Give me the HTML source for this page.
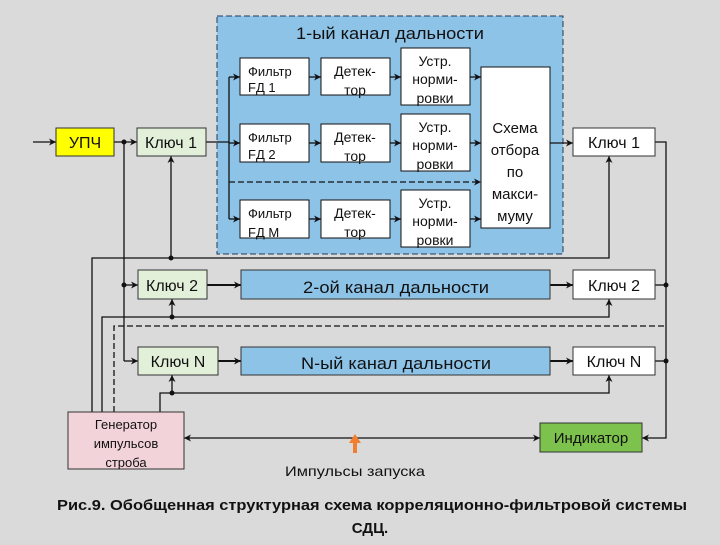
<!DOCTYPE html>
<html><head><meta charset="utf-8"><style>
body{margin:0;width:720px;height:540px;background:#d9d9d9;overflow:hidden}
svg text{font-family:"Liberation Sans","DejaVu Sans",sans-serif;fill:#111}
</style></head><body>
<svg width="720" height="540" viewBox="0 0 720 540" xmlns="http://www.w3.org/2000/svg">
<defs>
<marker id="a" markerWidth="8" markerHeight="8" refX="7" refY="4" orient="auto" markerUnits="userSpaceOnUse"><path d="M0,0.5 L7,4 L0,7.5 L2,4z" fill="#111"/></marker>
</defs>
<rect x="0" y="0" width="720" height="540" fill="#dadada"/>
<rect x="217" y="16" width="346" height="238" fill="#8ec3e8" stroke="#1f3a5a" stroke-dasharray="6,3"/>
<text x="296" y="39" font-size="17" textLength="188" lengthAdjust="spacingAndGlyphs">1-ый канал дальности</text>
<g stroke="#111" fill="#fff">
<rect x="240" y="58" width="69" height="37"/><rect x="240" y="124" width="69" height="38"/><rect x="240" y="200" width="69" height="38"/>
<rect x="321" y="58" width="69" height="37"/><rect x="321" y="124" width="69" height="38"/><rect x="321" y="200" width="69" height="38"/>
<rect x="401" y="48" width="69" height="57"/><rect x="401" y="114" width="69" height="57"/><rect x="401" y="190" width="69" height="57"/>
<rect x="481" y="67" width="69" height="161"/>
</g>
<g font-size="13">
<text x="248" y="76">Фильтр</text><text x="248" y="92">FД 1</text>
<text x="248" y="142">Фильтр</text><text x="248" y="159">FД 2</text>
<text x="248" y="218">Фильтр</text><text x="248" y="237">FД М</text>
</g>
<g font-size="14" text-anchor="middle">
<text x="355" y="76">Детек-</text><text x="355" y="95">тор</text>
<text x="355" y="142">Детек-</text><text x="355" y="161">тор</text>
<text x="355" y="218">Детек-</text><text x="355" y="237">тор</text>
<text x="435" y="66">Устр.</text><text x="435" y="84">норми-</text><text x="435" y="103">ровки</text>
<text x="435" y="132">Устр.</text><text x="435" y="150">норми-</text><text x="435" y="169">ровки</text>
<text x="435" y="208">Устр.</text><text x="435" y="226">норми-</text><text x="435" y="245">ровки</text>
<text x="515" y="133" font-size="15">Схема</text><text x="515" y="155" font-size="15">отбора</text><text x="515" y="177" font-size="15">по</text><text x="515" y="199" font-size="15">макси-</text><text x="515" y="221" font-size="15">муму</text>
</g>
<g stroke="#111" stroke-width="1.3" fill="none">
<path d="M229,77 V219"/>
<path d="M229,77 H240" marker-end="url(#a)"/><path d="M229,143 H240" marker-end="url(#a)"/><path d="M229,219 H240" marker-end="url(#a)"/>
<path d="M309,77 H321" marker-end="url(#a)"/><path d="M309,143 H321" marker-end="url(#a)"/><path d="M309,219 H321" marker-end="url(#a)"/>
<path d="M390,77 H401" marker-end="url(#a)"/><path d="M390,143 H401" marker-end="url(#a)"/><path d="M390,219 H401" marker-end="url(#a)"/>
<path d="M470,77 H481" marker-end="url(#a)"/><path d="M470,143 H481" marker-end="url(#a)"/><path d="M470,219 H481" marker-end="url(#a)"/>
<path d="M229,182 H481" stroke-dasharray="6,3" marker-end="url(#a)"/>
<path d="M550,143 H573" marker-end="url(#a)"/>
<path d="M33,142 H56" marker-end="url(#a)"/>
<path d="M114,142 H137" marker-end="url(#a)"/>
<path d="M206,142 H229"/>
<path d="M124,142 V361"/>
<path d="M124,285 H138" marker-end="url(#a)"/><path d="M124,361 H138" marker-end="url(#a)"/>
<path d="M92,412 V258 H609 V156" marker-end="url(#a)"/>
<path d="M171,258 V156" marker-end="url(#a)"/>
<path d="M102,412 V317 H609 V299" marker-end="url(#a)"/>
<path d="M172,317 V299" marker-end="url(#a)"/>
<path d="M114,412 V326 H666" stroke-dasharray="6,3"/>
<path d="M160,412 V393 H609 V375" marker-end="url(#a)"/>
<path d="M172,393 V375" marker-end="url(#a)"/>
<path d="M207,285 H241" stroke-width="2" marker-end="url(#a)"/>
<path d="M550,285 H573" stroke-width="2" marker-end="url(#a)"/>
<path d="M218,361 H241" stroke-width="2" marker-end="url(#a)"/>
<path d="M550,361 H573" stroke-width="2" marker-end="url(#a)"/>
<path d="M655,142 H666 V438 H642" marker-end="url(#a)"/>
<path d="M655,285 H666"/><path d="M655,361 H666"/>
<path d="M355,438 H540" marker-end="url(#a)"/>
<path d="M355,438 H184" marker-end="url(#a)"/>
</g>
<g fill="#111">
<circle cx="124" cy="142" r="2.5"/><circle cx="124" cy="285" r="2.5"/>
<circle cx="171" cy="258" r="2.5"/><circle cx="172" cy="317" r="2.5"/><circle cx="172" cy="393" r="2.5"/>
<circle cx="666" cy="285" r="2.5"/><circle cx="666" cy="361" r="2.5"/>
</g>
<rect x="56" y="128" width="58" height="28" fill="#ffff00" stroke="#333"/>
<text x="85" y="148" font-size="16" text-anchor="middle">УПЧ</text>
<g stroke="#333" fill="#e2efd9">
<rect x="137" y="128" width="69" height="28"/>
<rect x="138" y="270" width="69" height="29"/>
<rect x="138" y="347" width="80" height="28"/>
</g>
<g stroke="#333" fill="#fff">
<rect x="573" y="128" width="82" height="28"/>
<rect x="573" y="270" width="82" height="29"/>
<rect x="573" y="347" width="82" height="28"/>
</g>
<g stroke="#333" fill="#8ec3e8">
<rect x="241" y="270" width="309" height="29"/>
<rect x="241" y="347" width="309" height="28"/>
</g>
<rect x="68" y="412" width="116" height="57" fill="#f2d3da" stroke="#333"/>
<rect x="540" y="423" width="102" height="29" fill="#7cc24c" stroke="#333"/>
<g font-size="16" text-anchor="middle">
<text x="171" y="148">Ключ 1</text>
<text x="172" y="291">Ключ 2</text>
<text x="178" y="367">Ключ N</text>
<text x="614" y="148">Ключ 1</text>
<text x="614" y="291">Ключ 2</text>
<text x="614" y="367">Ключ N</text>
</g>
<text x="303" y="293" font-size="17" textLength="186" lengthAdjust="spacingAndGlyphs">2-ой канал дальности</text>
<text x="301" y="369" font-size="17" textLength="190" lengthAdjust="spacingAndGlyphs">N-ый канал дальности</text>
<text x="591" y="443" font-size="15" text-anchor="middle">Индикатор</text>
<g font-size="13" text-anchor="middle">
<text x="126" y="429">Генератор</text>
<text x="126" y="448">импульсов</text>
<text x="126" y="467">строба</text>
</g>
<text x="285" y="476" font-size="14" textLength="140" lengthAdjust="spacingAndGlyphs">Импульсы запуска</text>
<path d="M355,434 L349,443 L353,443 L353,453 L357,453 L357,443 L361,443z" fill="#f08030"/>
<g font-size="15" font-weight="bold">
<text x="57" y="510" textLength="630" lengthAdjust="spacingAndGlyphs">Рис.9. Обобщенная структурная схема корреляционно-фильтровой системы</text>
<text x="370" y="533" text-anchor="middle">СДЦ.</text>
</g>
</svg>
</body></html>
